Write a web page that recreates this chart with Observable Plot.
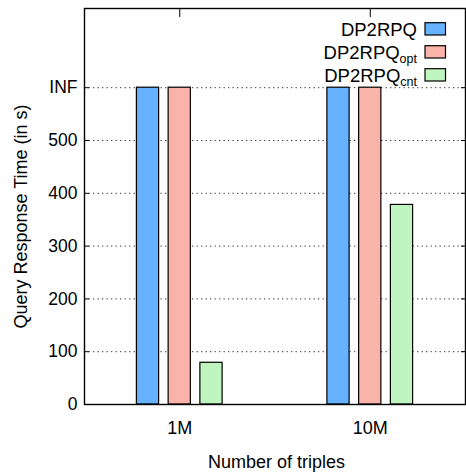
<!DOCTYPE html>
<html><head><meta charset="utf-8">
<script src="https://cdn.jsdelivr.net/npm/d3@7"></script>
<script src="https://cdn.jsdelivr.net/npm/@observablehq/plot@0.6"></script>
<style>body{margin:0;background:#fff}</style>
</head><body><div id="chart"></div>
<script>
const categories = ["1M", "10M"];
const series = ["DP2RPQ", "DP2RPQ_opt", "DP2RPQ_cnt"];
const seriesBase = ["DP2RPQ", "DP2RPQ", "DP2RPQ"];
const seriesSub = ["", "opt", "cnt"];
const valuesDP2RPQ = [600, 600];
const valuesOpt = [600, 600];
const valuesCnt = [79, 378];
const yTicks = [0, 100, 200, 300, 400, 500, 600];
const yTickLabels = ["0", "100", "200", "300", "400", "500", "INF"];
const colors = ["#66b2ff", "#fab3a9", "#bff5bf"];
const xLabel = "Number of triples";
const yLabel = "Query Response Time (in s)";

const valueLists = [valuesDP2RPQ, valuesOpt, valuesCnt];
const rows = [];
categories.forEach((c, ci) => series.forEach((s, si) =>
  rows.push({ci, si, category: c, series: s, value: valueLists[si][ci]})));
const catIdx = categories.map((c, i) => i);

const step = 1 / 6, half = 0.35 / 6;
const FONT = "'Liberation Sans', Arial, Helvetica, sans-serif";

const plot = Plot.plot({
  width: 466, height: 475,
  marginLeft: 84, marginRight: 1, marginTop: 8, marginBottom: 71,
  style: {fontFamily: FONT, fontSize: "18px", background: "#fff", color: "#000"},
  x: {type: "linear", domain: [-0.5, 1.5]},
  y: {domain: [0, 750]},
  color: {domain: series, range: colors},
  marks: [
    Plot.gridY(yTicks.slice(1), {stroke: "#333", strokeOpacity: 1, strokeDasharray: "1.3,3.2", strokeWidth: 1}),
    Plot.axisY(yTicks, {anchor: "left", tickSize: 0, tickPadding: 7, fontSize: 17.5,
      tickFormat: d => yTickLabels[yTicks.indexOf(d)], label: null}),
    Plot.axisY(yTicks, {anchor: "left", tickSize: 5, dx: 5, tickFormat: () => "", label: null}),
    Plot.axisY(yTicks, {anchor: "right", tickSize: 5, dx: -5, tickFormat: () => "", label: null}),
    Plot.axisX(catIdx, {anchor: "bottom", tickSize: 0, tickPadding: 16.5, fontSize: 18,
      tickFormat: i => categories[i], label: null}),
    Plot.axisX(catIdx, {anchor: "top", tickSize: 8, dy: 8, tickFormat: () => "", label: null}),
    Plot.rectY(rows, {
      x1: d => d.ci + (d.si - 1) * step - half,
      x2: d => d.ci + (d.si - 1) * step + half,
      y1: 0, y2: "value", fill: "series", stroke: "#000", strokeWidth: 1.2
    }),
    Plot.frame({stroke: "#000", strokeWidth: 1.4}),
    Plot.text([xLabel], {frameAnchor: "bottom", textAnchor: "middle", lineAnchor: "middle",
      dx: 1.5, dy: 57.5, fontSize: 18, fill: "#000"}),
    Plot.text([yLabel], {frameAnchor: "left", textAnchor: "middle", lineAnchor: "middle",
      rotate: -90, dx: -63, dy: 10, fontSize: 18, fill: "#000"})
  ]
});

// in-plot key, top right
const svg = d3.select(plot);
const lg = svg.append("g").attr("font-family", FONT).attr("font-size", 18.5).attr("fill", "#000");
series.forEach((s, i) => {
  const yb = 36 + 23 * i;
  const t = lg.append("text").attr("x", 417).attr("y", yb).attr("text-anchor", "end");
  t.append("tspan").text(seriesBase[i]);
  if (seriesSub[i]) t.append("tspan").attr("font-size", 12.5).attr("dy", 4).text(seriesSub[i]);
  lg.append("rect").attr("x", 425).attr("y", yb - 13.3).attr("width", 20.5).attr("height", 12.3)
    .attr("fill", plot.scale("color").apply(s)).attr("stroke", "#000").attr("stroke-width", 1.2);
});

document.getElementById("chart").appendChild(plot);
</script>
</body></html>
